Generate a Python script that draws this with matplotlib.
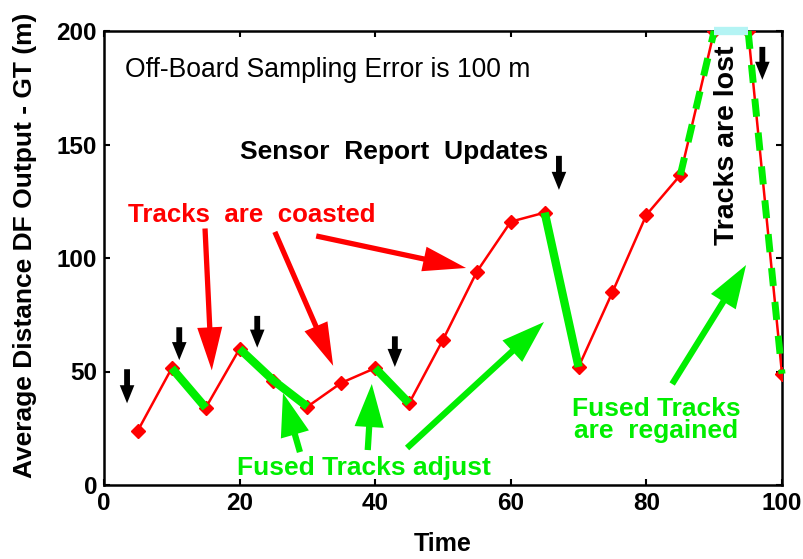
import matplotlib
matplotlib.use("Agg")
import matplotlib.pyplot as plt

plt.rcParams['font.family'] = ['Liberation Sans', 'DejaVu Sans']

# ---- data ----
time = [5, 10, 15, 20, 25, 30, 35, 40, 45, 50, 55, 60, 65, 70, 75, 80, 85, 90, 95, 100]
error = [24, 51.5, 34, 60, 46, 34.5, 45, 51.5, 36, 64, 94, 116, 120, 52, 85, 119, 136.5, 200, 200, 49]

# fused-track adjustment segments (solid green)
fused_segments = [([10, 15], [51.5, 34]),
                  ([20, 25, 30], [60, 46, 34.5]),
                  ([40, 45], [51.5, 36]),
                  ([65, 70], [120, 52])]
# tracks lost / regained (dashed green)
lost_segments = [([85, 90], [136.5, 200]),
                 ([95, 100], [200, 49])]
lost_flat = ([90, 95], [200, 200])

xticks = [0, 20, 40, 60, 80, 100]
yticks = [0, 50, 100, 150, 200]

# annotation arrows: (tail, tip) in data coords
black_arrows = [((3.4, 51), (3.4, 36)), ((11.1, 69.5), (11.1, 55)),
                ((22.6, 74.5), (22.6, 60.5)), ((42.9, 65.5), (42.9, 52)),
                ((67.1, 145), (67.1, 130)), ((97.1, 193), (97.1, 178.5))]
red_arrows = [((14.9, 113), (15.9, 50.5)), ((25.2, 111.5), (33.8, 52.5)),
              ((31.3, 109.7), (53.4, 95.6))]
green_arrows = [((28.9, 14.5), (26.4, 40.5)), ((38.9, 15.4), (39.5, 44.5)),
                ((44.7, 16.3), (64.9, 71.8)), ((83.8, 44.5), (94.7, 96.9))]

GREEN = '#00ee00'
RED = '#ff0000'

fig = plt.figure(figsize=(8.04, 5.59), dpi=100)
ax = fig.add_axes([104/804, 1-485/559, (782-104)/804, (485-31)/559])

ax.plot(time, error, color=RED, lw=1.8, marker='D', ms=7, mfc=RED, mec=RED, zorder=3)
for xs, ys in fused_segments:
    ax.plot(xs, ys, color=GREEN, lw=6, solid_capstyle='butt', zorder=4)
for xs, ys in lost_segments:
    ax.plot(xs, ys, color=GREEN, lw=5, dashes=(2.6, 2.3), solid_capstyle='butt',
            dash_capstyle='butt', zorder=4, clip_on=False)
ax.plot(lost_flat[0], lost_flat[1], color='#b4f4f4', lw=6, solid_capstyle='butt',
        zorder=5, clip_on=False)

def arrow(tail, tip, color, hl, hw, tw):
    ax.annotate('', xy=tip, xytext=tail,
                arrowprops=dict(arrowstyle=f'simple,head_length={hl},head_width={hw},tail_width={tw}',
                                color=color, lw=0, shrinkA=0, shrinkB=0,
                                mutation_scale=1), zorder=6)

for t, h in black_arrows:
    arrow(t, h, 'black', 13, 10.5, 4.2)
for t, h in red_arrows:
    arrow(t, h, RED, 31, 18, 3.8)
for t, h in green_arrows:
    arrow(t, h, GREEN, 31, 21, 4.5)

ax.text(3.1, 182.8, 'Off-Board Sampling Error is 100 m', fontsize=19.1, va='center', ha='left')
ax.text(20.1, 146.7, 'Sensor  Report  Updates', fontsize=19, fontweight='bold', va='center', ha='left')
ax.text(3.5, 119, 'Tracks  are  coasted', fontsize=18.6, fontweight='bold', color=RED, va='center', ha='left')
ax.text(19.6, 7.5, 'Fused Tracks adjust', fontsize=19, fontweight='bold', color=GREEN, va='center', ha='left')
ax.text(81.4, 28.6, 'Fused Tracks\nare  regained', fontsize=19, fontweight='bold', color=GREEN,
        va='center', ha='center', linespacing=0.92)
ax.text(91.9, 149.8, 'Tracks are lost', fontsize=20.5, fontweight='bold', rotation=90,
        va='center', ha='center')

ax.set_xlim(0, 100)
ax.set_ylim(0, 200)
ax.set_xticks(xticks)
ax.set_yticks(yticks)
ax.tick_params(direction='in', length=4, width=1.5, top=True, right=True,
               labelsize=17.5, pad=5)
for lab in ax.get_xticklabels() + ax.get_yticklabels():
    lab.set_fontweight('bold')
for s in ax.spines.values():
    s.set_linewidth(1.8)

ax.set_xlabel('Time', fontsize=18, fontweight='bold', labelpad=12)
ax.set_ylabel('Average Distance DF Output - GT (m)', fontsize=19, fontweight='bold')
ax.yaxis.set_label_coords(-0.099, 0.529)

fig.savefig('out.png', dpi=100)
